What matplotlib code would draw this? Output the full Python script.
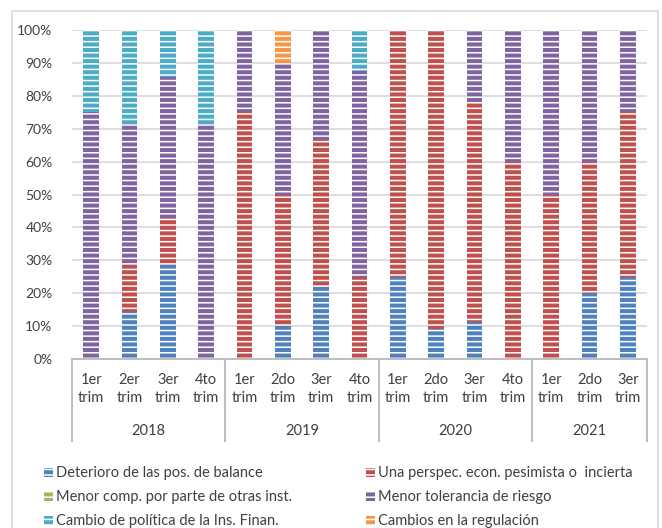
import numpy as np
import matplotlib
matplotlib.use("Agg")
import matplotlib.pyplot as plt
from matplotlib.patches import Rectangle
from matplotlib.transforms import blended_transform_factory

plt.rcParams['font.family'] = ['Lato', 'DejaVu Sans']
plt.rcParams['hatch.linewidth'] = 1.1

# --- data (percent of answers) ---
quarters = ["1er\ntrim", "2er\ntrim", "3er\ntrim", "4to\ntrim",
            "1er\ntrim", "2do\ntrim", "3er\ntrim", "4to\ntrim",
            "1er\ntrim", "2do\ntrim", "3er\ntrim", "4to\ntrim",
            "1er\ntrim", "2do\ntrim", "3er\ntrim"]
years = ["2018", "2019", "2020", "2021"]
year_sizes = [4, 4, 4, 3]

series_names = ["Deterioro de las pos. de balance",
                "Una perspec. econ. pesimista o  incierta",
                "Menor comp. por parte de otras inst.",
                "Menor tolerancia de riesgo",
                "Cambio de política de la Ins. Finan.",
                "Cambios en la regulación"]
deterioro = [0, 14.3, 28.6, 0, 0, 10, 22.2, 0, 25, 9.1, 11.1, 0, 0, 20, 25]
perspectiva = [0, 14.3, 14.3, 0, 75, 40, 44.4, 25, 75, 90.9, 66.7, 60, 50, 40, 50]
competencia = [0, 0, 0, 0, 0, 0, 0, 0, 0, 0, 0, 0, 0, 0, 0]
tolerancia = [75, 42.9, 42.9, 71.4, 25, 40, 33.3, 62.5, 0, 0, 22.2, 40, 50, 40, 25]
politica = [25, 28.6, 14.3, 28.6, 0, 0, 0, 12.5, 0, 0, 0, 0, 0, 0, 0]
regulacion = [0, 0, 0, 0, 0, 10, 0, 0, 0, 0, 0, 0, 0, 0, 0]

colors = ["#4F81BD", "#C0504D", "#9BBB59", "#8064A2", "#4BACC6", "#F79646"]
all_series = [deterioro, perspectiva, competencia, tolerancia, politica, regulacion]

W, H = 662, 528
fig = plt.figure(figsize=(W / 100, H / 100), dpi=100)

# outer chart border
fig.patches.append(Rectangle((12 / W, -0.05), 646 / W, 1.05 - 11 / H,
                             transform=fig.transFigure, fill=False,
                             edgecolor="#D9D9D9", linewidth=1.2))

ax = fig.add_axes([72 / W, 1 - 359 / H, 575 / W, 329 / H])
x = np.arange(len(quarters))
bottom = np.zeros(len(quarters))
for vals, col in zip(all_series, colors):
    v = np.array(vals)
    ax.bar(x, v, 0.41, bottom=bottom, color=col, edgecolor="white",
           linewidth=0, hatch="---")
    bottom += v

ax.set_xlim(-0.5, len(quarters) - 0.5)
ax.set_ylim(0, 100)
ax.set_yticks(np.arange(0, 101, 10))
ax.set_yticklabels([f"{t}%" for t in range(0, 101, 10)])
ax.tick_params(axis="y", length=0, pad=14, labelsize=10, labelcolor="#404040")
ax.tick_params(axis="x", length=0, labelbottom=False)
ax.yaxis.grid(True, color="#D9D9D9", linewidth=1.2)
ax.set_axisbelow(True)
for s in ["top", "right", "left"]:
    ax.spines[s].set_visible(False)
ax.spines["bottom"].set_color("#BFBFBF")
ax.spines["bottom"].set_linewidth(1.5)

# multi-level category axis
tr = blended_transform_factory(ax.transData, ax.transAxes)
for xi, lab in zip(x, quarters):
    ax.text(xi, -0.043, lab, transform=tr, ha="center", va="top",
            fontsize=10.5, color="#404040", linespacing=1.35)
edges = np.concatenate([[0], np.cumsum(year_sizes)]) - 0.5
for e in edges:
    ax.plot([e, e], [0, -0.25], transform=tr, color="#BFBFBF",
            linewidth=1.5, clip_on=False)
for i, yr in enumerate(years):
    ax.text((edges[i] + edges[i + 1]) / 2, -0.22, yr, transform=tr,
            ha="center", va="center", fontsize=10.5, color="#404040")

# legend, two columns
rows_y = [473, 497, 521]
col_x = [44, 366]
for i, (name, col) in enumerate(zip(series_names, colors)):
    cx = col_x[i % 2]
    cy = rows_y[i // 2]
    fig.patches.append(Rectangle((cx / W, 1 - (cy + 4) / H), 9 / W, 9 / H,
                                 transform=fig.transFigure, facecolor=col,
                                 edgecolor="white", linewidth=0, hatch="---"))
    fig.text((cx + 12) / W, 1 - cy / H, name, ha="left", va="center",
             fontsize=10.5, color="#404040")

fig.savefig("out.png", dpi=100)
